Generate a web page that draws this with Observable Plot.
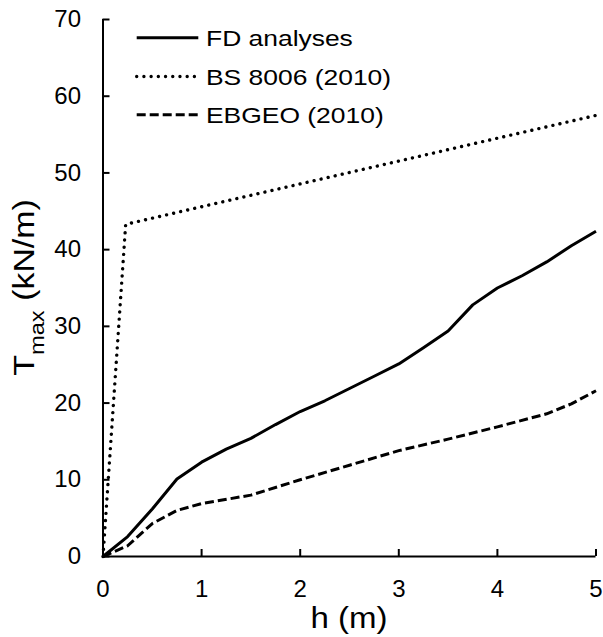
<!DOCTYPE html>
<html>
<head>
<meta charset="utf-8">
<script src="https://cdn.jsdelivr.net/npm/d3@7"></script>
<script src="https://cdn.jsdelivr.net/npm/@observablehq/plot@0.6"></script>
<style>
  html, body { margin: 0; padding: 0; background: #fff; }
  #chart { width: 603px; height: 637px; }
</style>
</head>
<body>
<div id="chart"></div>
<script>
// ---- data ----
const xTicks = [0, 1, 2, 3, 4, 5];
const yTicks = [0, 10, 20, 30, 40, 50, 60, 70];

const seriesNames = ["FD analyses", "BS 8006 (2010)", "EBGEO (2010)"];

const fdH = [0, 0.25, 0.5, 0.75, 1, 1.25, 1.5, 1.75, 2, 2.25, 2.5, 2.75, 3, 3.25, 3.5, 3.75, 4, 4.25, 4.5, 4.75, 5];
const fdT = [0, 2.6, 6.2, 10.1, 12.3, 14.0, 15.4, 17.2, 18.9, 20.3, 21.9, 23.5, 25.1, 27.2, 29.4, 32.8, 35.0, 36.6, 38.4, 40.5, 42.4];

const bsH = [0, 0.23, 5];
const bsT = [0, 43.3, 57.5];

const ebH = [0, 0.25, 0.5, 0.75, 1, 1.5, 2, 2.5, 3, 3.5, 4, 4.5, 4.75, 5];
const ebT = [0, 1.4, 4.3, 6.0, 6.9, 8.0, 10.0, 11.9, 13.8, 15.3, 16.9, 18.6, 19.9, 21.6];

// ---- build rows ----
const rows = (hs, ts) => hs.map((h, i) => ({h, t: ts[i]}));
const fdRows = rows(fdH, fdT);
const bsRows = rows(bsH, bsT);
const ebRows = rows(ebH, ebT);

const styles = {
  solid: {strokeWidth: 3, strokeDasharray: null, strokeLinecap: "butt"},
  dotted: {strokeWidth: 3.4, strokeDasharray: "0.01,7.2", strokeLinecap: "round"},
  dashed: {strokeWidth: 3, strokeDasharray: "9,4", strokeLinecap: "butt"}
};

const W = 603, H = 637;
const mL = 102.5, mR = 7.5, mT = 19, mB = 81;
const innerW = W - mL - mR, innerH = H - mT - mB;
const tickLen = 7;

const font = "'Liberation Sans', Arial, Helvetica, sans-serif";

const chart = Plot.plot({
  width: W,
  height: H,
  marginLeft: mL,
  marginRight: mR,
  marginTop: mT,
  marginBottom: mB,
  style: {fontFamily: font, fontSize: "24px", color: "#000", background: "#fff", overflow: "visible"},
  x: {domain: [0, 5]},
  y: {domain: [0, 70]},
  marks: [
    Plot.axisX(xTicks, {tickSize: 0, tickPadding: 23, fontSize: 24, label: null}),
    Plot.axisY(yTicks, {tickSize: 0, tickPadding: 22, fontSize: 24, label: null}),
    Plot.line(ebRows, {x: "h", y: "t", stroke: "#000", strokeLinejoin: "round", ...styles.dashed}),
    Plot.line(bsRows, {x: "h", y: "t", stroke: "#000", strokeLinejoin: "round", ...styles.dotted}),
    Plot.line(fdRows, {x: "h", y: "t", stroke: "#000", strokeLinejoin: "round", ...styles.solid}),
    Plot.tickX(xTicks, {x: d => d, insetTop: innerH - tickLen, stroke: "#000", strokeWidth: 2}),
    Plot.tickY(yTicks, {y: d => d, insetRight: innerW - tickLen, stroke: "#000", strokeWidth: 2}),
    Plot.ruleX([0], {stroke: "#000", strokeWidth: 2}),
    Plot.ruleY([0], {stroke: "#000", strokeWidth: 2})
  ]
});

document.getElementById("chart").appendChild(chart);

// ---- titles and legend ----
const svg = d3.select(chart);

// x title
svg.append("text")
  .attr("transform", `translate(${mL + innerW / 2},628) scale(1.14,1)`)
  .attr("text-anchor", "middle")
  .attr("font-family", font)
  .attr("font-size", 29)
  .attr("fill", "#000")
  .text("h (m)");

// y title
const yt = svg.append("text")
  .attr("transform", `translate(33.5,${mT + innerH / 2}) rotate(-90) scale(1.13,1)`)
  .attr("text-anchor", "middle")
  .attr("font-family", font)
  .attr("font-size", 30)
  .attr("fill", "#000");
yt.append("tspan").text("T");
yt.append("tspan").attr("font-size", 21).attr("dy", 10).text("max");
yt.append("tspan").attr("dy", -10).text(" (kN/m)");

// legend
const legendStyles = [styles.solid, styles.dotted, styles.dashed];
const legendY = [37.7, 76.5, 114.8];
const lg = svg.append("g");
seriesNames.forEach((name, i) => {
  const s = legendStyles[i];
  lg.append("line")
    .attr("x1", 136.7).attr("x2", 198.3)
    .attr("y1", legendY[i]).attr("y2", legendY[i])
    .attr("stroke", "#000")
    .attr("stroke-width", s.strokeWidth)
    .attr("stroke-dasharray", s.strokeDasharray)
    .attr("stroke-linecap", s.strokeLinecap);
  lg.append("text")
    .attr("transform", `translate(206,${legendY[i] + 8}) scale(1.175,1)`)
    .attr("text-anchor", "start")
    .attr("font-family", font)
    .attr("font-size", 22.5)
    .attr("fill", "#000")
    .text(name);
});
</script>
</body>
</html>
